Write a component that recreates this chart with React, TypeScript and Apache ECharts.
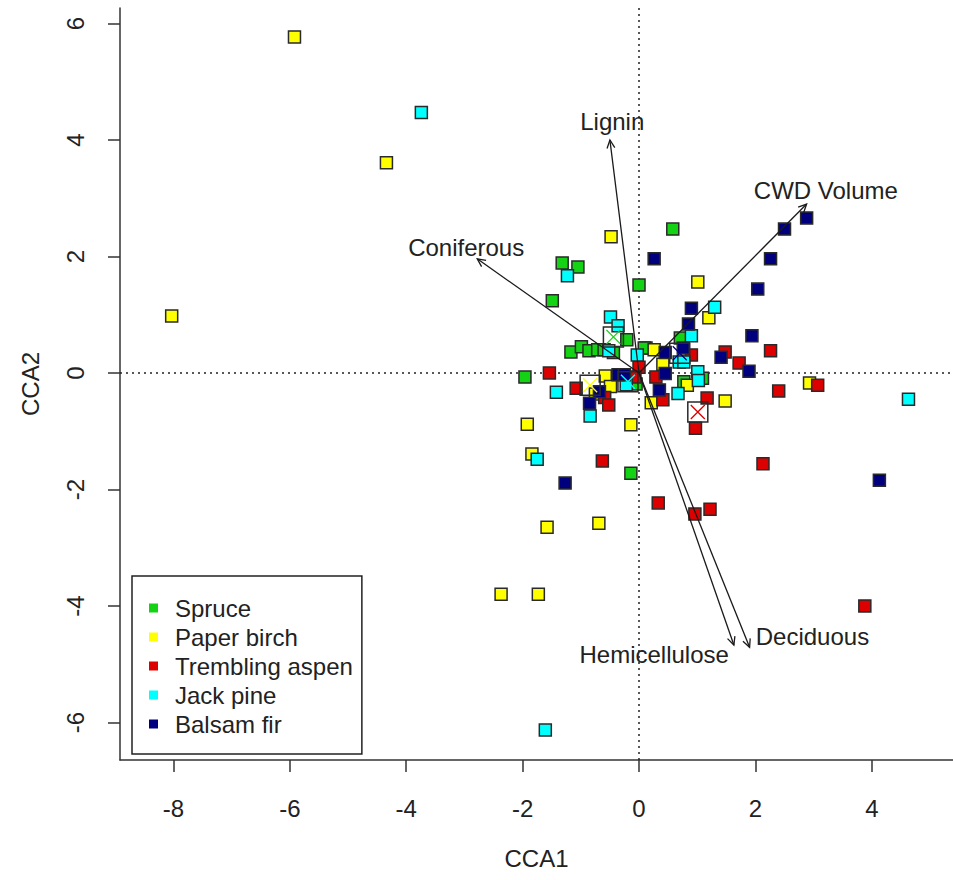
import React, { useEffect, useRef } from "react";
import * as echarts from "echarts";

const speciesNames = ["Spruce", "Paper birch", "Trembling aspen", "Jack pine", "Balsam fir"];
const speciesColors = ["#14d214", "#ffff00", "#dc0000", "#00ffff", "#00007f"];

const spruce: number[][] = [
  [0.58, 2.47], [-1.32, 1.89], [-1.05, 1.82], [-1.49, 1.24], [0.0, 1.51], [-1.96, -0.07],
  [-0.14, -1.72], [-0.21, 0.57], [-1.17, 0.36], [-0.99, 0.45], [-0.86, 0.38], [-0.71, 0.4],
  [-0.6, 0.4], [-0.44, 0.35], [0.71, 0.6], [0.12, 0.43], [1.09, -0.09], [0.77, -0.15],
  [-0.05, -0.19], [0.09, 0.43],
];
const paperBirch: number[][] = [
  [-5.92, 5.77], [-4.34, 3.61], [-8.03, 0.98], [-0.48, 2.34], [1.01, 1.56], [1.2, 0.95],
  [-1.92, -0.88], [-1.84, -1.39], [-1.58, -2.65], [-0.69, -2.58], [-2.37, -3.8], [-1.73, -3.8],
  [-0.14, -0.89], [1.48, -0.48], [2.93, -0.17], [0.26, 0.4], [0.41, 0.15], [-0.58, -0.05],
  [-0.49, -0.23], [-0.75, -0.36], [0.83, -0.21], [0.21, -0.51],
];
const tremblingAspen: number[][] = [
  [-1.54, 0.0], [-0.63, -1.51], [0.33, -2.23], [0.96, -2.42], [1.22, -2.34], [2.13, -1.56],
  [2.26, 0.38], [2.4, -0.31], [3.07, -0.21], [3.88, -4.0], [1.72, 0.17], [1.48, 0.36],
  [0.97, -0.95], [1.17, -0.43], [0.0, 0.1], [-1.08, -0.26], [-0.59, -0.42], [-0.52, -0.55],
  [0.9, 0.31], [0.29, -0.07], [0.41, -0.46], [-0.07, -0.07],
];
const jackPine: number[][] = [
  [-3.74, 4.47], [-1.23, 1.67], [-1.75, -1.48], [-1.61, -6.13], [4.63, -0.45], [1.3, 1.13],
  [-1.42, -0.33], [-0.84, -0.74], [-0.49, 0.96], [-0.36, 0.81], [-0.52, 0.38], [-0.03, 0.31],
  [0.9, 0.64], [0.69, 0.19], [0.77, 0.19], [1.01, 0.02], [1.02, -0.13], [0.67, -0.35],
  [-0.22, -0.2],
];
const balsamFir: number[][] = [
  [2.88, 2.66], [2.5, 2.47], [2.26, 1.96], [2.04, 1.44], [1.94, 0.64], [1.89, 0.03],
  [1.41, 0.27], [0.26, 1.96], [4.13, -1.84], [-1.27, -1.89], [0.9, 1.11], [0.85, 0.84],
  [0.45, 0.35], [0.76, 0.43], [-0.36, -0.03], [-0.25, -0.03], [-0.68, -0.32], [-0.85, -0.52],
  [0.45, -0.01], [0.35, -0.29],
];
const speciesPoints = [spruce, paperBirch, tremblingAspen, jackPine, balsamFir];

// group centroids (one per species, same order)
const centroidX = [-0.44, -0.84, 1.01, -0.19, 0.7];
const centroidY = [0.62, -0.21, -0.67, -0.15, 0.34];

// biplot arrows (environmental variables)
const arrowNames = ["Lignin", "CWD Volume", "Coniferous", "Deciduous", "Hemicellulose"];
const arrowX = [-0.5, 2.88, -2.78, 1.9, 1.63];
const arrowY = [4.0, 2.9, 1.96, -4.71, -4.67];
const arrowLabelX = [-0.46, 3.21, -2.97, 2.98, 0.26];
const arrowLabelY = [4.31, 3.13, 2.16, -4.52, -4.83];

const xTicks = [-8, -6, -4, -2, 0, 2, 4];
const yTicks = [-6, -4, -2, 0, 2, 4, 6];

const FONT = "'Liberation Sans', Arial, sans-serif";
const INK = "#222";
const FS = 24;

export default function App() {
  const ref = useRef<HTMLDivElement>(null);
  useEffect(() => {
    document.body.style.margin = "0";
    if (!ref.current) return;
    const chart = echarts.init(ref.current, null, { renderer: "svg" });

    const scatterSeries = speciesNames.map((name, i) => ({
      name,
      type: "scatter",
      data: speciesPoints[i],
      symbol: "rect",
      symbolSize: 12,
      z: 3,
      itemStyle: { color: speciesColors[i], borderColor: "#2a2a2a", borderWidth: 1.5, opacity: 1 },
      emphasis: { disabled: true },
      ...(i === 0
        ? {
            markLine: {
              silent: true,
              symbol: "none",
              label: { show: false },
              lineStyle: { type: [2, 4], color: INK, width: 1.5 },
              data: [{ xAxis: 0 }, { yAxis: 0 }],
              z: 1,
            },
          }
        : {}),
    }));

    const centroidData = centroidX.map((x, i) => [x, centroidY[i]]);

    const option: any = {
      animation: false,
      backgroundColor: "#ffffff",
      grid: { left: 120, right: 0, top: 8, bottom: 120 },
      xAxis: {
        type: "value",
        min: -8.918,
        max: 5.395,
        name: "CCA1",
        nameLocation: "middle",
        nameGap: 86,
        nameTextStyle: { fontFamily: FONT, fontSize: FS, color: INK },
        axisLine: { show: true, onZero: false, lineStyle: { color: "#333", width: 1.5 } },
        axisTick: { show: true, length: 12, customValues: xTicks, lineStyle: { color: "#333", width: 1.5 } },
        axisLabel: { customValues: xTicks, margin: 36, fontFamily: FONT, fontSize: FS, color: INK },
        splitLine: { show: false },
      },
      yAxis: {
        type: "value",
        min: -6.644,
        max: 6.266,
        name: "CCA2",
        nameLocation: "middle",
        nameGap: 78,
        nameRotate: 90,
        nameTextStyle: { fontFamily: FONT, fontSize: FS, color: INK },
        axisLine: { show: true, onZero: false, lineStyle: { color: "#333", width: 1.5 } },
        axisTick: { show: true, length: 12, customValues: yTicks, lineStyle: { color: "#333", width: 1.5 } },
        axisLabel: { customValues: yTicks, rotate: 90, margin: 33, fontFamily: FONT, fontSize: FS, color: INK },
        splitLine: { show: false },
      },
      legend: {
        data: speciesNames,
        orient: "vertical",
        left: 132,
        top: 576,
        icon: "rect",
        itemWidth: 9,
        itemHeight: 9,
        itemGap: 5,
        padding: [20, 9, 18, 17],
        borderColor: INK,
        borderWidth: 1.5,
        backgroundColor: "#ffffff",
        selectedMode: false,
        itemStyle: { borderWidth: 0 },
        textStyle: { fontFamily: FONT, fontSize: FS, lineHeight: 23.5, color: INK, padding: [0, 0, 0, 12] },
      },
      series: [
        ...scatterSeries,
        {
          name: "centroidBox",
          type: "scatter",
          data: centroidData,
          symbol: "rect",
          symbolSize: 20,
          z: 4,
          itemStyle: { color: "rgba(0,0,0,0)", borderColor: "#2a2a2a", borderWidth: 1.5, opacity: 1 },
          emphasis: { disabled: true },
        },
        {
          name: "centroidX",
          type: "scatter",
          data: centroidData.map((d, i) => ({
            value: d,
            itemStyle: { color: "none", borderColor: speciesColors[i], borderWidth: 1.3, opacity: 1 },
          })),
          symbol: "path://M0,0L10,10M10,0L0,10",
          symbolSize: 14,
          z: 5,
          emphasis: { disabled: true },
        },
        {
          name: "arrows",
          type: "custom",
          z: 6,
          silent: true,
          data: arrowNames.map((n, i) => [arrowX[i], arrowY[i], arrowLabelX[i], arrowLabelY[i], i]),
          renderItem: (params: any, api: any) => {
            const o = api.coord([0, 0]);
            const e = api.coord([api.value(0), api.value(1)]);
            const l = api.coord([api.value(2), api.value(3)]);
            const idx = api.value(4);
            const ang = Math.atan2(e[1] - o[1], e[0] - o[0]);
            const h = 9;
            const a1 = ang + Math.PI - Math.PI / 7;
            const a2 = ang + Math.PI + Math.PI / 7;
            const style = { stroke: "#1a1a1a", lineWidth: 1.3, fill: "none" };
            return {
              type: "group",
              children: [
                { type: "line", shape: { x1: o[0], y1: o[1], x2: e[0], y2: e[1] }, style },
                {
                  type: "polyline",
                  shape: {
                    points: [
                      [e[0] + h * Math.cos(a1), e[1] + h * Math.sin(a1)],
                      [e[0], e[1]],
                      [e[0] + h * Math.cos(a2), e[1] + h * Math.sin(a2)],
                    ],
                  },
                  style,
                },
                {
                  type: "text",
                  x: l[0],
                  y: l[1],
                  style: {
                    text: arrowNames[idx],
                    fontFamily: FONT,
                    fontSize: FS,
                    fill: INK,
                    align: "center",
                    verticalAlign: "middle",
                  },
                },
              ],
            };
          },
        },
      ],
    };
    chart.setOption(option);
    return () => chart.dispose();
  }, []);
  return <div ref={ref} style={{ width: 953, height: 880 }} />;
}
